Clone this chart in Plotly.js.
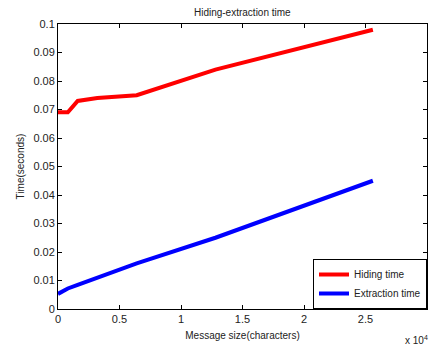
<!DOCTYPE html>
<html><head><meta charset="utf-8">
<script src="https://cdn.plot.ly/plotly-3.0.1.min.js"></script>
<style>body{margin:0;background:#fff}#c{width:430px;height:346px}</style>
</head><body><div id="c"></div>
<script>
const messageSize = [0, 800, 1600, 3200, 6400, 12800, 25600];
const hidingTime = [0.069, 0.069, 0.073, 0.074, 0.075, 0.084, 0.098];
const extractionTime = [0.0053, 0.0072, 0.0085, 0.011, 0.016, 0.025, 0.045];
const xTickVals = [0, 5000, 10000, 15000, 20000, 25000, 30000];
const xTickText = ["0", "0.5", "1", "1.5", "2", "2.5", "3"];
const yTickVals = [0, 0.01, 0.02, 0.03, 0.04, 0.05, 0.06, 0.07, 0.08, 0.09, 0.1];
const yTickText = ["0", "0.01", "0.02", "0.03", "0.04", "0.05", "0.06", "0.07", "0.08", "0.09", "0.1"];

const font = {family: "Liberation Sans, Arial, sans-serif", color: "#222", size: 11};
const traces = [
  {x: messageSize, y: hidingTime, name: "Hiding time", mode: "lines", line: {color: "#ff0000", width: 4}},
  {x: messageSize, y: extractionTime, name: "Extraction time", mode: "lines", line: {color: "#0000ff", width: 4}}
];
const axisCommon = {showgrid: false, zeroline: false, showline: true, linecolor: "#000", linewidth: 1,
  mirror: "ticks", ticks: "inside", ticklen: 4, tickcolor: "#000", tickfont: font};
const layout = {
  width: 430, height: 346,
  margin: {l: 58, r: 3, t: 24, b: 37},
  paper_bgcolor: "#fff", plot_bgcolor: "#fff",
  font: font,
  title: {text: "Hiding-extraction time", font: {family: font.family, size: 10, color: "#222"}, x: 0.5635, xanchor: "center", y: 0.965, yanchor: "middle"},
  xaxis: Object.assign({}, axisCommon, {range: [0, 30000], tickvals: xTickVals, ticktext: xTickText,
    title: {text: "Message size(characters)", font: {family: font.family, size: 10, color: "#222"}, standoff: 7}}),
  yaxis: Object.assign({}, axisCommon, {range: [0, 0.1], tickvals: yTickVals, ticktext: yTickText,
    title: {text: "Time(seconds)", font: {family: font.family, size: 10, color: "#222"}, standoff: 6}}),
  showlegend: true,
  legend: {x: 1, xanchor: "right", y: 0, yanchor: "bottom", bordercolor: "#000", borderwidth: 1,
    bgcolor: "#fff", font: {family: font.family, size: 10, color: "#222"}, tracegroupgap: 0, itemwidth: 30},
  annotations: [{text: "x 10<sup>4</sup>", xref: "paper", yref: "paper", x: 1.005, y: -0.135, xanchor: "right", yanchor: "bottom",
    borderpad: 0, showarrow: false, font: {family: font.family, size: 10, color: "#222"}}]
};
Plotly.newPlot("c", traces, layout, {displayModeBar: false, staticPlot: true});
</script></body></html>
